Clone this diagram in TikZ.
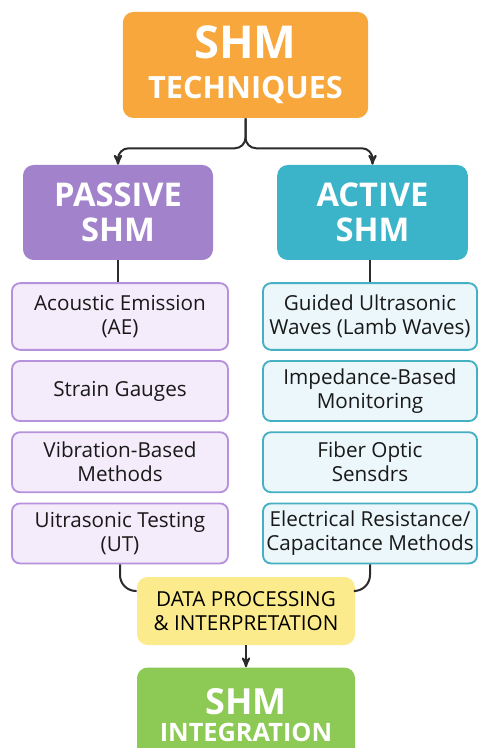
\documentclass[tikz,border=0pt]{standalone}
\usepackage{fontspec}
\setmainfont{Open Sans}
\usepackage{tikz}
\usetikzlibrary{arrows,positioning}

\definecolor{shmorange}{HTML}{F8A73C}
\definecolor{pasviolet}{HTML}{A283CB}
\definecolor{actteal}{HTML}{3BB4C9}
\definecolor{pasfill}{HTML}{F4ECFB}
\definecolor{pasline}{HTML}{B592DB}
\definecolor{actfill}{HTML}{EBF7FA}
\definecolor{actline}{HTML}{45B0C3}
\definecolor{datyellow}{HTML}{FCEB8C}
\definecolor{intgreen}{HTML}{8DC955}
\definecolor{wire}{HTML}{2B2B2B}

\tikzset{
  head/.style={rectangle, rounded corners=8pt, inner sep=0pt, align=center,
    text=white},
  item/.style={rectangle, rounded corners=6pt, line width=1.4pt, inner sep=0pt,
    align=center, text=black!90, minimum width=160pt, minimum height=45pt,
    font=\fontsize{15.5}{18}\selectfont},
  pas item/.style={item, draw=pasline, fill=pasfill, minimum width=162pt},
  act item/.style={item, draw=actline, fill=actfill, minimum width=160.5pt},
  wire/.style={draw=wire, line width=1.5pt, rounded corners=8pt},
}

\begin{document}
\begin{tikzpicture}[x=0.75pt,y=-0.75pt,>=stealth']
  \useasboundingbox (0,0) rectangle (478,748);

  % top and the two branches
  \node[head, fill=shmorange, minimum width=184pt, minimum height=79.5pt,
    font=\bfseries\fontsize{23}{26}\selectfont] (shm) at (245.5,65)
    {\fontsize{34}{34}\selectfont SHM\\[4pt]TECHNIQUES};
  \node[head, fill=pasviolet, minimum width=142.5pt, minimum height=71.25pt,
    font=\bfseries\fontsize{24.5}{26}\selectfont] (pas) at (118,212.5) {PASSIVE\\SHM};
  \node[head, fill=actteal, minimum width=143pt, minimum height=71.25pt,
    font=\bfseries\fontsize{24.5}{26}\selectfont] (act) at (372.5,212.5) {ACTIVE\\SHM};

  % passive methods
  \node[pas item, minimum height=50pt] (p1) at (120,316.5) {Acoustic Emission\\(AE)};
  \node[pas item] (p2) [below=7pt of p1] {Strain Gauges};
  \node[pas item] (p3) [below=7pt of p2] {Vibration-Based\\Methods};
  \node[pas item] (p4) [below=7pt of p3] {Uitrasonic Testing\\(UT)};

  % active methods
  \node[act item, minimum height=50pt] (a1) at (370,316.5) {Guided Ultrasonic\\Waves (Lamb Waves)};
  \node[act item] (a2) [below=7pt of a1] {Impedance-Based\\Monitoring};
  \node[act item] (a3) [below=7pt of a2] {Fiber Optic\\Sensdrs};
  \node[act item] (a4) [below=7pt of a3] {Electrical Resistance/\\Capacitance Methods};

  % processing and result
  \node[rectangle, rounded corners=8pt, fill=datyellow, align=center, inner sep=0pt,
    minimum width=163.5pt, minimum height=51pt,
    font=\fontsize{15.5}{18}\selectfont] (dat) at (246,611)
    {DATA PROCESSING\\\& INTERPRETATION};
  \node[head, fill=intgreen, minimum width=163.5pt, minimum height=71pt,
    font=\bfseries\fontsize{19}{22.5}\selectfont] (int) [below=16.5pt of dat]
    {\fontsize{27}{27}\selectfont SHM\\[-2pt]INTEGRATION};

  % connectors
  \draw[wire, ->] (shm.south) -- ++(0,30) -| (pas.north);
  \draw[wire, ->] (shm.south) -- ++(0,30) -| (act.north);
  \draw[wire] (pas.south) -- (pas.south |- p1.north);
  \draw[wire] (a1.north |- act.south) -- (a1.north);
  \draw[wire, rounded corners=12pt] (p4.south) |- ([yshift=15pt]dat.west);
  \draw[wire, rounded corners=12pt] (a4.south) |- ([yshift=15pt]dat.east);
  \draw[wire, ->] (dat.south) -- (int.north);
\end{tikzpicture}
\end{document}
